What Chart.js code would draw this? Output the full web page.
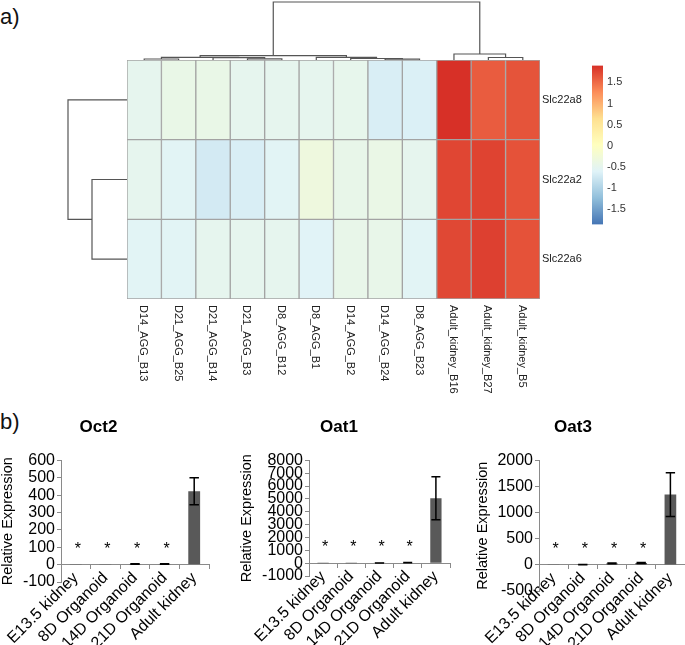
<!DOCTYPE html>
<html>
<head>
<meta charset="utf-8">
<script src="https://cdn.jsdelivr.net/npm/chart.js@4.4.1/dist/chart.umd.min.js"></script>
<style>
  body { margin: 0; background: #fff; }
  #page { position: relative; width: 685px; height: 645px; overflow: hidden; background: #fff; font-family: 'Liberation Sans', Arial, sans-serif; }
  #page canvas { position: absolute; }
  .tag { position: absolute; left: 0; font-size: 22px; line-height: 22px; color: #111; }
</style>
</head>
<body>
<div id="page">
  <div class="tag" style="top:6px">a)</div>
  <div class="tag" style="top:411px">b)</div>
  <canvas id="heatmap" width="500" height="340" style="left:120px;top:55px"></canvas>
  <canvas id="colDendro" width="413" height="60" style="left:127px;top:0px"></canvas>
  <canvas id="rowDendro" width="67" height="239" style="left:60px;top:60px"></canvas>
  <canvas id="colorKey" width="50" height="180" style="left:592px;top:55px"></canvas>
  <canvas id="oct2Chart" width="227" height="235" style="left:-12px;top:410px"></canvas>
  <canvas id="oat1Chart" width="227" height="235" style="left:228px;top:410px"></canvas>
  <canvas id="oat3Chart" width="224" height="235" style="left:461px;top:410px"></canvas>
</div>
<script>
// ---- heatmap data (row-scaled expression) ----
const sampleLabels = ["D14_AGG_B13", "D21_AGG_B25", "D21_AGG_B14", "D21_AGG_B3", "D8_AGG_B12", "D8_AGG_B1",
    "D14_AGG_B2", "D14_AGG_B24", "D8_AGG_B23", "Adult_kidney_B16", "Adult_kidney_B27", "Adult_kidney_B5"];
const geneLabels = ["Slc22a8", "Slc22a2", "Slc22a6"];
const slc22a8Z = [-0.50, -0.43, -0.43, -0.50, -0.50, -0.50, -0.48, -0.67, -0.65, 1.90, 1.60, 1.66];
const slc22a2Z = [-0.50, -0.58, -0.72, -0.67, -0.58, -0.33, -0.45, -0.41, -0.50, 1.75, 1.77, 1.67];
const slc22a6Z = [-0.58, -0.58, -0.50, -0.50, -0.50, -0.60, -0.45, -0.45, -0.58, 1.74, 1.79, 1.67];
const heatRows = [slc22a8Z, slc22a2Z, slc22a6Z];

// dendrograms, hclust style: negative = leaf, positive = earlier merge (1-based)
const colMerge = [
    [-1, -2, 1.0], [-4, -5, 1.2], [-3, 2, 2.3], [1, 3, 2.7],
    [-8, -9, 0.8], [-7, 5, 1.5], [-6, 6, 2.7], [4, 7, 4.3],
    [-11, -12, 2.5], [-10, 9, 6.0], [8, 10, 58]
];
const rowMerge = [[-2, -3, 35], [-1, 1, 59]];

// colour key
const colorRange = [-1.87, 1.9];
const colorTicks = [-1.5, -1, -0.5, 0, 0.5, 1, 1.5];
const palette = ["#4575B4", "#91BFDB", "#E0F3F8", "#FFFFBF", "#FEE090", "#FC8D59", "#D73027"];

// ---- qPCR bar data ----
const categories = ["E13.5 kidney", "8D Organoid", "14D Organoid", "21D Organoid", "Adult kidney"];
const stars = ["*", "*", "*", "*", ""];
const oct2Values = [1, 1.2, 3.5, 4, 422];
const oct2Errors = [0, 0, 1, 1.5, 78];
const oct2Axis = [-100, 600, 100];
const oat1Values = [1, 2, 8, 35, 5050];
const oat1Errors = [0, 0, 3, 12, 1680];
const oat1Axis = [-1000, 8000, 1000];
const oat3Values = [1, 4, 28, 35, 1345];
const oat3Errors = [0, 2, 8, 10, 420];
const oat3Axis = [-500, 2000, 500];

Chart.defaults.font.family = "'Liberation Sans', Arial, sans-serif";
Chart.defaults.animation = false;
Chart.defaults.plugins.legend.display = false;
Chart.defaults.plugins.tooltip.enabled = false;

function hexToRgb(h) {
    return [1, 3, 5].map((i) => parseInt(h.slice(i, i + 2), 16));
}

function colorFor(v) {
    let t = (v - colorRange[0]) / (colorRange[1] - colorRange[0]);
    t = Math.min(1, Math.max(0, t)) * (palette.length - 1);
    const i = Math.min(palette.length - 2, Math.floor(t));
    const f = t - i;
    const a = hexToRgb(palette[i]), b = hexToRgb(palette[i + 1]);
    const c = a.map((x, k) => Math.round(x + (b[k] - x) * f));
    return "rgb(" + c.join(",") + ")";
}

// build one line dataset per merge from the hclust table
function dendroDatasets(merge, horizontal) {
    const pos = [], height = [];
    const where = (n) => (n < 0 ? [-n - 1, 0] : [pos[n - 1], height[n - 1]]);
    const sets = [];
    merge.forEach(([a, b, h]) => {
        const [pa, ha] = where(a);
        const [pb, hb] = where(b);
        pos.push((pa + pb) / 2);
        height.push(h);
        const pts = [[pa, ha], [pa, h], [pb, h], [pb, hb]].map(([p, q]) =>
            horizontal ? { x: p, y: q } : { x: q, y: p });
        sets.push({ data: pts, showLine: true, pointRadius: 0, borderColor: "#555", borderWidth: 1.2 });
    });
    return sets;
}

// ---- heatmap ----
const heatLabels = {
    id: "heatLabels",
    afterDraw(chart) {
        const { ctx, chartArea, scales } = chart;
        ctx.save();
        ctx.fillStyle = "#222";
        ctx.font = "11px 'Liberation Sans', Arial, sans-serif";
        ctx.textBaseline = "middle";
        ctx.textAlign = "left";
        geneLabels.forEach((g, r) => {
            ctx.fillText(g, chartArea.right + 2, scales.y.getPixelForValue(r + 0.5));
        });
        sampleLabels.forEach((s, i) => {
            ctx.save();
            ctx.translate(scales.x.getPixelForValue(i) - 1, chartArea.bottom + 6);
            ctx.rotate(Math.PI / 2);
            ctx.fillText(s, 0, 0);
            ctx.restore();
        });
        ctx.restore();
    }
};

new Chart(document.getElementById("heatmap"), {
    type: "bar",
    data: {
        labels: sampleLabels,
        datasets: heatRows.map((row, r) => ({
            label: geneLabels[r],
            data: row.map(() => [r, r + 1]),
            backgroundColor: row.map(colorFor),
            borderColor: "#a3a3a3",
            borderWidth: 1,
            borderSkipped: false,
            barPercentage: 1,
            categoryPercentage: 1,
            grouped: false
        }))
    },
    options: {
        responsive: false,
        devicePixelRatio: 1,
        events: [],
        layout: { padding: { left: 7, top: 5, right: 80, bottom: 96 } },
        scales: {
            x: { display: false },
            y: { display: false, min: 0, max: 3, reverse: true }
        }
    },
    plugins: [heatLabels]
});

new Chart(document.getElementById("colDendro"), {
    type: "scatter",
    data: { datasets: dendroDatasets(colMerge, true) },
    options: {
        responsive: false,
        devicePixelRatio: 1,
        events: [],
        scales: {
            x: { display: false, min: -0.5, max: sampleLabels.length - 0.5 },
            y: { display: false, min: 0, max: 60 }
        }
    }
});

new Chart(document.getElementById("rowDendro"), {
    type: "scatter",
    data: { datasets: dendroDatasets(rowMerge, false) },
    options: {
        responsive: false,
        devicePixelRatio: 1,
        events: [],
        scales: {
            x: { display: false, min: 0, max: 67, reverse: true },
            y: { display: false, min: -0.5, max: geneLabels.length - 0.5, reverse: true }
        }
    }
});

new Chart(document.getElementById("colorKey"), {
    type: "bar",
    data: {
        labels: [""],
        datasets: [{
            data: [colorRange],
            barPercentage: 1,
            categoryPercentage: 1,
            borderWidth: 0,
            backgroundColor: (c) => {
                const chart = c.chart;
                if (!chart.chartArea) return null;
                const ys = chart.scales.y;
                const g = chart.ctx.createLinearGradient(0, ys.getPixelForValue(colorRange[0]), 0, ys.getPixelForValue(colorRange[1]));
                palette.forEach((col, i) => g.addColorStop(i / (palette.length - 1), col));
                return g;
            }
        }]
    },
    options: {
        responsive: false,
        devicePixelRatio: 1,
        events: [],
        layout: { padding: { top: 5, bottom: 7 } },
        scales: {
            x: { display: false },
            y: {
                position: "right",
                min: colorRange[0],
                max: colorRange[1],
                grid: { display: false, drawTicks: false },
                border: { display: false },
                ticks: { color: "#333", font: { size: 11 }, padding: 4, autoSkip: false, callback: (v) => String(v) },
                afterBuildTicks: (s) => { s.ticks = colorTicks.map((v) => ({ value: v })); },
                afterFit: (s) => { s.width = 39; }
            }
        }
    }
});

// ---- bar charts ----
const barExtras = {
    id: "barExtras",
    afterDatasetsDraw(chart, args, opts) {
        const { ctx, scales } = chart;
        const y = scales.y;
        const values = chart.data.datasets[0].data;
        const zero = y.getPixelForValue(0);
        ctx.save();
        ctx.strokeStyle = "#000";
        ctx.lineWidth = 1.5;
        ctx.fillStyle = "#000";
        ctx.font = "16px 'Liberation Sans', Arial, sans-serif";
        ctx.textAlign = "center";
        ctx.textBaseline = "alphabetic";
        chart.getDatasetMeta(0).data.forEach((bar, i) => {
            const e = opts.errors[i];
            if (e > 0) {
                const top = y.getPixelForValue(values[i] + e);
                const bot = y.getPixelForValue(values[i] - e);
                const half = bar.width * 0.4;
                ctx.beginPath();
                ctx.moveTo(bar.x, top); ctx.lineTo(bar.x, bot);
                ctx.moveTo(bar.x - half, top); ctx.lineTo(bar.x + half, top);
                ctx.moveTo(bar.x - half, bot); ctx.lineTo(bar.x + half, bot);
                ctx.stroke();
            }
            if (stars[i]) ctx.fillText(stars[i], bar.x + 2, zero - 11);
        });
        ctx.restore();
    }
};

function makeBarChart(id, title, values, errors, axis, yWidth, titlePad, padRight, padBottom) {
    return new Chart(document.getElementById(id), {
        type: "bar",
        data: {
            labels: categories,
            datasets: [{
                data: values,
                backgroundColor: "#595959",
                barPercentage: 0.4,
                categoryPercentage: 1
            }]
        },
        options: {
            responsive: false,
            devicePixelRatio: 1,
            events: [],
            layout: { padding: { left: 0, right: padRight, top: 0, bottom: padBottom } },
            plugins: {
                title: {
                    display: true,
                    text: title,
                    color: "#000",
                    font: { size: 17, weight: "bold" },
                    padding: { top: 7, bottom: 23 }
                },
                barExtras: { errors: errors }
            },
            scales: {
                x: {
                    position: { y: 0 },
                    grid: { display: true, drawOnChartArea: false, tickLength: 4, color: "#8a8a8a" },
                    border: { color: "#8a8a8a" },
                    ticks: { color: "#000", font: { size: 16 }, minRotation: 45, maxRotation: 45, padding: 0, autoSkip: false }
                },
                y: {
                    min: axis[0],
                    max: axis[1],
                    grid: { display: true, drawOnChartArea: false, tickLength: 4, color: "#8a8a8a" },
                    border: { color: "#8a8a8a" },
                    ticks: {
                        stepSize: axis[2], color: "#000", font: { size: 16 }, padding: 2,
                        autoSkip: false, callback: (v) => String(v)
                    },
                    title: {
                        display: true,
                        text: "Relative Expression",
                        color: "#000",
                        font: { size: 14.5 },
                        padding: { top: titlePad, bottom: 0 }
                    },
                    afterFit: (s) => { s.width = yWidth; }
                }
            }
        },
        plugins: [barExtras]
    });
}

makeBarChart("oct2Chart", "Oct2", oct2Values, oct2Errors, oct2Axis, 73, 11, 6, 63);
makeBarChart("oat1Chart", "Oat1", oat1Values, oat1Errors, oat1Axis, 81, 10, 5, 69);
makeBarChart("oat3Chart", "Oat3", oat3Values, oat3Errors, oat3Axis, 78, 13, 0, 54);
</script>
</body>
</html>
